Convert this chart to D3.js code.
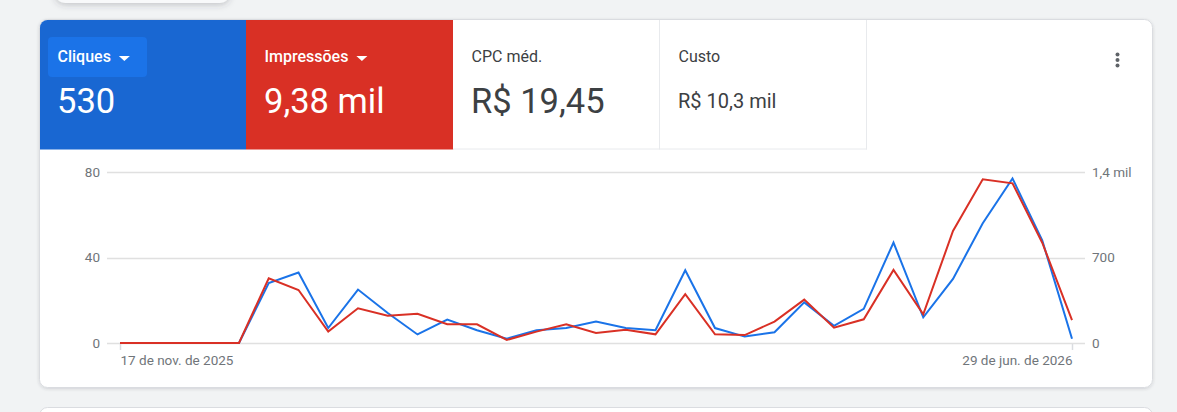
<!DOCTYPE html>
<html>
<head>
<meta charset="utf-8">
<script src="https://cdn.jsdelivr.net/npm/d3@7"></script>
<style>
  html, body { margin: 0; padding: 0; background: #f1f3f4; }
  svg { display: block; font-family: Roboto, "Noto Sans", Arial, sans-serif; }
</style>
</head>
<body>
<svg id="chart" width="1177" height="412"></svg>
<script>
// ---- data ----
const weeks = ["2025-11-17","2025-11-24","2025-12-01","2025-12-08","2025-12-15","2025-12-22","2025-12-29",
  "2026-01-05","2026-01-12","2026-01-19","2026-01-26","2026-02-02","2026-02-09","2026-02-16","2026-02-23",
  "2026-03-02","2026-03-09","2026-03-16","2026-03-23","2026-03-30","2026-04-06","2026-04-13","2026-04-20",
  "2026-04-27","2026-05-04","2026-05-11","2026-05-18","2026-05-25","2026-06-01","2026-06-08","2026-06-15",
  "2026-06-22","2026-06-29"];
const cliques = [0,0,0,0,0,28,33,7,25,14,4,11,6,2,6,7,10,7,6,34,7,3,5,19,8,16,47,12,30,56,77,48,2];
const impressoes = [0,0,0,0,0,530,434,93,284,224,240,153,153,25,93,153,82,109,71,399,71,65,175,355,125,194,598,235,917,1340,1307,821,188];
const leftTicks = [0, 40, 80];
const rightTicks = [0, 700, 1400];
const rightTickLabels = ["0", "700", "1,4 mil"];
const xTickLabels = ["17 de nov. de 2025", "29 de jun. de 2026"];
const tiles = [
  { label: "Cliques", value: "530", selected: "blue" },
  { label: "Impressões", value: "9,38 mil", selected: "red" },
  { label: "CPC méd.", value: "R$ 19,45", selected: null },
  { label: "Custo", value: "R$ 10,3 mil", selected: null }
];

// ---- drawing ----
const svg = d3.select("#chart");
const defs = svg.append("defs");
const f = defs.append("filter").attr("id", "sh").attr("x", "-10%").attr("y", "-50%").attr("width", "120%").attr("height", "200%");
f.append("feDropShadow").attr("dx", 0).attr("dy", 1).attr("stdDeviation", 1.5).attr("flood-color", "#3c4043").attr("flood-opacity", 0.18);
const f2 = defs.append("filter").attr("id", "sh2").attr("x", "-20%").attr("y", "-100%").attr("width", "140%").attr("height", "300%");
f2.append("feDropShadow").attr("dx", 0).attr("dy", 2).attr("stdDeviation", 3).attr("flood-color", "#3c4043").attr("flood-opacity", 0.25);

// top chip shadow (element above)
svg.append("rect").attr("x", 55).attr("y", -40).attr("width", 175).attr("height", 43).attr("rx", 10)
  .attr("fill", "#f8f9fa").attr("filter", "url(#sh2)");

// main card
const cardX = 39, cardY = 19, cardW = 1114, cardH = 369;
svg.append("rect").attr("x", cardX + 0.5).attr("y", cardY + 0.5).attr("width", cardW - 1).attr("height", cardH - 1)
  .attr("rx", 8).attr("fill", "#fff").attr("stroke", "#dadce0").attr("filter", "url(#sh)");
// next card below
svg.append("rect").attr("x", cardX + 0.5).attr("y", 407.5).attr("width", cardW - 1).attr("height", 40)
  .attr("rx", 8).attr("fill", "#fff").attr("stroke", "#dadce0");

// tiles
const tileW = 207, tileTop = 19, tileH = 130.5;
const clip = defs.append("clipPath").attr("id", "cardclip");
clip.append("rect").attr("x", cardX + 1).attr("y", cardY + 1).attr("width", cardW - 2).attr("height", cardH - 2).attr("rx", 7.5);
const tg = svg.append("g").attr("clip-path", "url(#cardclip)");
tiles.forEach((t, i) => {
  const x0 = cardX + i * tileW;
  const g = tg.append("g");
  const fill = t.selected === "blue" ? "#1967d2" : t.selected === "red" ? "#d93025" : "#fff";
  g.append("rect").attr("x", x0).attr("y", tileTop).attr("width", tileW + (i === 1 ? 0.5 : 0)).attr("height", tileH).attr("fill", fill);
  if (!t.selected) {
    g.append("line").attr("x1", x0).attr("x2", x0 + tileW).attr("y1", tileTop + tileH - 0.5).attr("y2", tileTop + tileH - 0.5)
      .attr("stroke", "#e8eaed");
    g.append("line").attr("x1", x0 + tileW - 0.5).attr("x2", x0 + tileW - 0.5).attr("y1", tileTop).attr("y2", tileTop + tileH)
      .attr("stroke", "#e8eaed");
  }
  const tx = x0 + 18.5;
  if (t.selected === "blue") {
    g.append("rect").attr("x", x0 + 9).attr("y", 37).attr("width", 99).attr("height", 40).attr("rx", 4).attr("fill", "#1b73e8");
  }
  const labelColor = t.selected ? "#fff" : "#3c4043";
  const lbl = g.append("text").attr("x", tx).attr("y", 62).attr("font-size", 16)
    .attr("font-weight", t.selected ? 500 : 400).attr("fill", labelColor).text(t.label);
  if (t.selected) {
    const w = lbl.node().getComputedTextLength();
    const ax = tx + w + 8;
    g.append("path").attr("d", `M${ax},56 L${ax + 11},56 L${ax + 5.5},61 Z`).attr("fill", "#fff");
  }
  const big = i < 3;
  g.append("text").attr("x", tx - 0.5).attr("y", big ? 113 : 108).attr("font-size", big ? 34.5 : 20)
    .attr("fill", t.selected ? "#fff" : "#3c4043").text(t.value);
});

// menu dots
[54.5, 60, 65.5].forEach(cy => svg.append("circle").attr("cx", 1117.5).attr("cy", cy).attr("r", 2).attr("fill", "#5f6368"));

// chart
const parse = d3.timeParse("%Y-%m-%d");
const dates = weeks.map(parse);
const x = d3.scaleTime().domain(d3.extent(dates)).range([120, 1072]);
const yL = d3.scaleLinear().domain([0, 80]).range([343, 172]);
const yR = d3.scaleLinear().domain([0, 1400]).range([343, 172]);

const gridX0 = 107, gridX1 = 1085;
svg.append("g").selectAll("line").data(leftTicks).join("line")
  .attr("x1", gridX0).attr("x2", gridX1)
  .attr("y1", d => Math.round(yL(d)) + 0.5).attr("y2", d => Math.round(yL(d)) + 0.5)
  .attr("stroke", "#e0e0e0").attr("stroke-width", 1.5);

const axL = svg.append("g").attr("transform", `translate(${gridX0},0)`)
  .call(d3.axisLeft(yL).tickValues(leftTicks).tickSize(0).tickPadding(7));
const axR = svg.append("g").attr("transform", `translate(${gridX1},0)`)
  .call(d3.axisRight(yR).tickValues(rightTicks).tickSize(0).tickPadding(7).tickFormat((d, i) => rightTickLabels[i]));
const axB = svg.append("g").attr("transform", `translate(0,344)`)
  .call(d3.axisBottom(x).tickValues([dates[0], dates[dates.length - 1]]).tickSize(6).tickPadding(5)
    .tickFormat((d, i) => xTickLabels[i]));
[axL, axR, axB].forEach(a => {
  a.attr("font-size", null).attr("font-family", null);
  a.select(".domain").remove();
  a.selectAll("text").style("font-size", "13.5px").attr("fill", "#70757a").style("font-family", "Roboto, sans-serif");
});
axB.selectAll("line").attr("stroke", "#dadce0").attr("stroke-width", 1.5);
axB.selectAll(".tick text").attr("text-anchor", (d, i) => i === 0 ? "start" : "end");

const lineL = d3.line().x((d, i) => x(dates[i])).y(d => yL(d));
const lineR = d3.line().x((d, i) => x(dates[i])).y(d => yR(d));
svg.append("path").datum(cliques).attr("d", lineL).attr("fill", "none")
  .attr("stroke", "#1a73e8").attr("stroke-width", 2).attr("stroke-linejoin", "miter");
svg.append("path").datum(impressoes).attr("d", lineR).attr("fill", "none")
  .attr("stroke", "#d93025").attr("stroke-width", 2).attr("stroke-linejoin", "miter");
</script>
</body>
</html>
